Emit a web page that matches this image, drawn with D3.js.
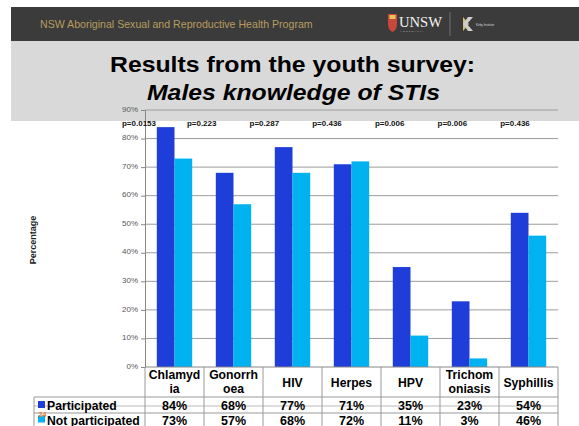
<!DOCTYPE html>
<html>
<head>
<meta charset="utf-8">
<script src="https://cdn.jsdelivr.net/npm/d3@7"></script>
<style>
  html, body { margin: 0; padding: 0; background: #fff; }
  svg { display: block; font-family: Arial, "Liberation Sans", sans-serif; }
</style>
</head>
<body>
<svg id="chart" width="579" height="426"></svg>
<script>
// Knowledge of STIs among male respondents, by participation
const categories = ["Chlamydia", "Gonorrhoea", "HIV", "Herpes", "HPV", "Trichomoniasis", "Syphillis"];
const categoryLines = [["Chlamyd", "ia"], ["Gonorrh", "oea"], ["HIV"], ["Herpes"], ["HPV"], ["Trichom", "oniasis"], ["Syphillis"]];
const participated = [84, 68, 77, 71, 35, 23, 54];
const notParticipated = [73, 57, 68, 72, 11, 3, 46];
const pValues = ["p=0.0153", "p=0.223", "p=0.287", "p=0.436", "p=0.006", "p=0.006", "p=0.436"];
const seriesNames = ["Participated", "Not participated"];
const seriesColors = ["#1f3dd9", "#00b2f0"];
const yTicks = [0, 10, 20, 30, 40, 50, 60, 70, 80, 90];

const FONT = "Arial, 'Liberation Sans', sans-serif";
const svg = d3.select("#chart");

// Slide header band
svg.append("rect").attr("x", 11).attr("y", 7).attr("width", 568).attr("height", 34).attr("fill", "#3b3b3b");
svg.append("text").attr("x", 40).attr("y", 28)
  .attr("font-size", 10.6).attr("fill", "#b79c5f")
  .text("NSW Aboriginal Sexual and Reproductive Health Program");

// UNSW crest and wordmark
const logo = svg.append("g");
logo.append("path").attr("d", "M388,14 h9 v10 q0,6 -4.5,8 q-4.5,-2 -4.5,-8 z").attr("fill", "#c9463a");
logo.append("rect").attr("x", 389.5).attr("y", 15).attr("width", 6).attr("height", 4).attr("fill", "#e7c35a");
logo.append("text").attr("x", 399).attr("y", 27).attr("font-size", 14).attr("fill", "#f2f2f2")
  .attr("font-family", "Liberation Serif, serif").attr("textLength", 43).attr("lengthAdjust", "spacingAndGlyphs").text("UNSW");
logo.append("text").attr("x", 400).attr("y", 32).attr("font-size", 2.5).attr("fill", "#ccc")
  .attr("letter-spacing", 1.2).text("AUSTRALIA");
logo.append("line").attr("x1", 450).attr("x2", 450).attr("y1", 12).attr("y2", 36).attr("stroke", "#888").attr("stroke-width", 0.7);
// Kirby Institute mark
logo.append("path").attr("d", "M463,17 l6,7 l-6,7 z").attr("fill", "#d8c06a");
logo.append("path").attr("d", "M468,17 h5 l-6,7 l6,7 h-5 l-5,-7 z").attr("fill", "#cfcfcf");
logo.append("text").attr("x", 476).attr("y", 26).attr("font-size", 3).attr("fill", "#ddd").text("Kirby Institute");

// Title band
svg.append("rect").attr("x", 11).attr("y", 41).attr("width", 568).attr("height", 80).attr("fill", "#d9d9d9");
svg.append("text").attr("x", 292.5).attr("y", 72).attr("text-anchor", "middle")
  .attr("font-size", 22).attr("font-weight", "bold").attr("fill", "#000")
  .attr("textLength", 365).attr("lengthAdjust", "spacingAndGlyphs")
  .text("Results from the youth survey:");
svg.append("text").attr("x", 293.5).attr("y", 100).attr("text-anchor", "middle")
  .attr("font-size", 22).attr("font-weight", "bold").attr("font-style", "italic").attr("fill", "#000")
  .attr("textLength", 293).attr("lengthAdjust", "spacingAndGlyphs")
  .text("Males knowledge of STIs");

// Plot scales
const plotLeft = 145, plotRight = 558, plotTop = 110, plotBottom = 367;
const x = d3.scaleBand().domain(categories).range([plotLeft, plotRight]).paddingInner(0.4).paddingOuter(0.2);
const sub = d3.scaleBand().domain(seriesNames).range([0, x.bandwidth()]);
const y = d3.scaleLinear().domain([0, 90]).range([plotBottom, plotTop]);

// Gridlines
svg.append("g").selectAll("line").data(yTicks.filter(t => t > 0)).join("line")
  .attr("x1", plotLeft).attr("x2", plotRight)
  .attr("y1", d => y(d)).attr("y2", d => y(d))
  .attr("stroke", "#9c9c9c").attr("stroke-width", 1);

// Y axis
const yAxis = d3.axisLeft(y).tickValues(yTicks).tickFormat(d => d + "%").tickSize(4).tickPadding(3);
const yG = svg.append("g").attr("transform", `translate(${plotLeft},0)`).call(yAxis);
yG.attr("font-family", FONT);
yG.select(".domain").attr("stroke", "#888");
yG.selectAll(".tick line").attr("stroke", "#888");
yG.selectAll(".tick text").attr("font-size", 8).attr("fill", "#555").attr("dy", "0.15em");

svg.append("text")
  .attr("transform", "translate(36,240) rotate(-90)")
  .attr("text-anchor", "middle").attr("font-size", 9).attr("font-weight", "bold").attr("fill", "#222")
  .text("Percentage");

// Bars
const series = [participated, notParticipated];
series.forEach((vals, si) => {
  svg.append("g").selectAll("rect").data(categories).join("rect")
    .attr("x", (c) => x(c) + sub(seriesNames[si]))
    .attr("width", sub.bandwidth())
    .attr("y", (c, i) => y(vals[i]))
    .attr("height", (c, i) => y(0) - y(vals[i]))
    .attr("fill", seriesColors[si]);
});

// P-value annotations along the top
const px = d3.scalePoint().domain(categories).range([139, 515]);
svg.append("g").selectAll("text").data(categories).join("text")
  .attr("x", c => px(c)).attr("y", 126).attr("text-anchor", "middle")
  .attr("font-size", 8).attr("font-weight", "bold").attr("fill", "#111")
  .text((c, i) => pValues[i]);

// Data table beneath the plot
const step = x.step();
const cellLeft = c => x(c) - x.paddingOuter() * step;
const tableLeft = 34, headBottom = 397, row1Bottom = 413, tableBottom = 426;
const table = svg.append("g").attr("stroke", "#999").attr("stroke-width", 1);
table.append("line").attr("x1", plotLeft).attr("x2", plotRight).attr("y1", plotBottom).attr("y2", plotBottom).attr("stroke", "#888");
table.append("line").attr("x1", tableLeft).attr("x2", plotRight).attr("y1", headBottom).attr("y2", headBottom);
table.append("line").attr("x1", tableLeft).attr("x2", plotRight).attr("y1", 406).attr("y2", 406).attr("stroke", "#bbb");
table.append("line").attr("x1", tableLeft).attr("x2", plotRight).attr("y1", row1Bottom).attr("y2", row1Bottom);
table.append("line").attr("x1", tableLeft).attr("x2", tableLeft).attr("y1", headBottom).attr("y2", tableBottom);
table.selectAll(".vline").data(categories).join("line").attr("class", "vline")
  .attr("x1", c => cellLeft(c)).attr("x2", c => cellLeft(c))
  .attr("y1", plotBottom).attr("y2", tableBottom);
table.append("line").attr("x1", plotRight).attr("x2", plotRight).attr("y1", plotBottom).attr("y2", tableBottom);

// Category header cells
const headMid = (plotBottom + headBottom) / 2;
categories.forEach((c, i) => {
  const lines = categoryLines[i];
  const cx = x(c) + x.bandwidth() / 2;
  const t = svg.append("text").attr("text-anchor", "middle").attr("font-size", 12.2)
    .attr("font-weight", "bold").attr("fill", "#000");
  lines.forEach((ln, li) => {
    t.append("tspan").attr("x", cx)
      .attr("y", headMid + (lines.length > 1 ? 4 : 5) + (li - (lines.length - 1) / 2) * 14)
      .text(ln);
  });
});

// Value rows with legend keys
const rowBaselines = [410, 424.5];
series.forEach((vals, si) => {
  const by = rowBaselines[si];
  svg.append("rect").attr("x", 38).attr("y", by - 9).attr("width", 7).attr("height", 7).attr("fill", seriesColors[si]);
  svg.append("text").attr("x", 47).attr("y", by).attr("font-size", 12.2).attr("font-weight", "bold").attr("fill", "#000")
    .text(seriesNames[si]);
  svg.append("g").selectAll("text").data(categories).join("text")
    .attr("x", c => x(c) + x.bandwidth() / 2).attr("y", by)
    .attr("text-anchor", "middle").attr("font-size", 12.5).attr("font-weight", "bold").attr("fill", "#000")
    .text((c, i) => vals[i] + "%");
});

// Slide number
svg.append("text").attr("x", 38.5).attr("y", 417).attr("font-size", 7).attr("font-weight", "bold").attr("fill", "#e8772e").text("24");
</script>
</body>
</html>
